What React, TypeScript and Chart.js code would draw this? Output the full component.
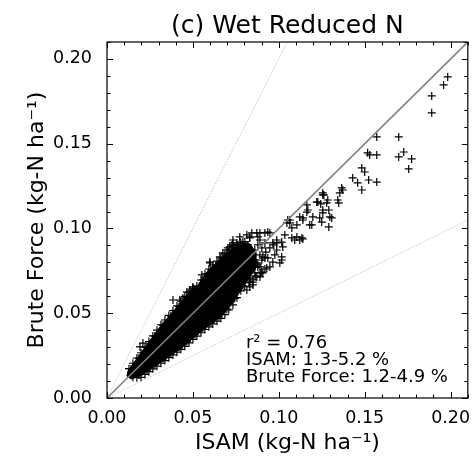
import React, { useEffect, useRef } from 'react';
import { Chart, registerables } from 'chart.js';

Chart.register(...registerables);

const FONT = '"DejaVu Sans", "Liberation Sans", sans-serif';

const chartTitle = '(c) Wet Reduced N';
const xAxisTitle = 'ISAM (kg-N ha⁻¹)';
const yAxisTitle = 'Brute Force (kg-N ha⁻¹)';
const statLines = ['r² = 0.76', 'ISAM: 1.3-5.2 %', 'Brute Force: 1.2-4.9 %'];

const axisMin = 0;
const axisMax = 0.21;
const majorTicks = [0, 0.05, 0.1, 0.15, 0.2];
const minorTicks = [0.01, 0.02, 0.03, 0.04, 0.06, 0.07, 0.08, 0.09, 0.11, 0.12, 0.13, 0.14, 0.16, 0.17, 0.18, 0.19, 0.21];

// reference lines (ISAM, Brute Force)
const oneToOneIsam = [0, 0.21];
const oneToOneBrute = [0, 0.21];
const doubleIsam = [0, 0.105];
const doubleBrute = [0, 0.21];
const halfIsam = [0, 0.21];
const halfBrute = [0, 0.105];

// saturated (fully overlapping) core of the point cloud, outline
const denseCoreIsam = [0.0122, 0.0209, 0.0308, 0.0407, 0.0471, 0.0523, 0.0581, 0.0628, 0.0674, 0.0733, 0.0802, 0.0831, 0.0866, 0.0866, 0.0820, 0.0773, 0.0733, 0.0674, 0.0558, 0.0442, 0.0308, 0.0192, 0.0140, 0.0116, 0.0122];
const denseCoreBrute = [0.0159, 0.0283, 0.0419, 0.0537, 0.0614, 0.0655, 0.0743, 0.0791, 0.0832, 0.0885, 0.0915, 0.0909, 0.0861, 0.0767, 0.0696, 0.0625, 0.0561, 0.0490, 0.0401, 0.0301, 0.0207, 0.0130, 0.0112, 0.0130, 0.0159];

// individual samples [ISAM, Brute Force]
const samples: [number, number][] = [
  // upper edge of cloud
  [0.0128, 0.0173], [0.0151, 0.0205], [0.0174, 0.0236], [0.0198, 0.0267], [0.0221, 0.0300], [0.0244, 0.0333],
  [0.0267, 0.0366], [0.0291, 0.0400], [0.0314, 0.0432], [0.0337, 0.0460], [0.0360, 0.0487], [0.0384, 0.0515],
  [0.0407, 0.0543], [0.0430, 0.0571], [0.0453, 0.0599], [0.0477, 0.0624], [0.0500, 0.0643], [0.0523, 0.0661],
  [0.0547, 0.0696], [0.0570, 0.0732], [0.0593, 0.0761], [0.0616, 0.0785], [0.0640, 0.0807], [0.0663, 0.0827],
  [0.0686, 0.0850], [0.0709, 0.0873], [0.0733, 0.0897], [0.0756, 0.0905], [0.0779, 0.0914], [0.0802, 0.0922],
  [0.0140, 0.0171], [0.0186, 0.0234], [0.0233, 0.0299], [0.0279, 0.0365], [0.0326, 0.0428], [0.0372, 0.0483],
  [0.0419, 0.0539], [0.0465, 0.0595], [0.0512, 0.0634], [0.0558, 0.0696], [0.0605, 0.0755], [0.0651, 0.0799],
  [0.0698, 0.0841], [0.0744, 0.0883], [0.0791, 0.0900],
  // above the cloud
  [0.0384, 0.0578], [0.0442, 0.0590], [0.0494, 0.0625], [0.0558, 0.0679], [0.0599, 0.0797], [0.0552, 0.0726],
  [0.0674, 0.0856], [0.0703, 0.0885], [0.0727, 0.0903], [0.0756, 0.0915], [0.0831, 0.0944], [0.0878, 0.0950],
  [0.0820, 0.0903], [0.0843, 0.0873], [0.0733, 0.0915], [0.0791, 0.0920], [0.0843, 0.0974], [0.0872, 0.0974],
  [0.0919, 0.0974], [0.0936, 0.0979], [0.0988, 0.0932], [0.1017, 0.0920], [0.1064, 0.1033], [0.1076, 0.1003],
  [0.1105, 0.0950], [0.0500, 0.0655], [0.0483, 0.0637], [0.0192, 0.0301], [0.0209, 0.0324],
  [0.0657, 0.0832], [0.0599, 0.0802], [0.0500, 0.0649], [0.0424, 0.0578], [0.0465, 0.0625], [0.0698, 0.0873],
  [0.0733, 0.0932], [0.0773, 0.0950], [0.0814, 0.0962], [0.0890, 0.0932], [0.0988, 0.0915], [0.1035, 0.0962],
  [0.1052, 0.1050], [0.1105, 0.1021], [0.1122, 0.0932],
  // lower edge of cloud
  [0.0151, 0.0122], [0.0174, 0.0120], [0.0198, 0.0122], [0.0221, 0.0139], [0.0244, 0.0155], [0.0267, 0.0172],
  [0.0291, 0.0188], [0.0314, 0.0205], [0.0337, 0.0221], [0.0360, 0.0238], [0.0384, 0.0254], [0.0407, 0.0270],
  [0.0430, 0.0287], [0.0453, 0.0305], [0.0477, 0.0325], [0.0500, 0.0345], [0.0523, 0.0365], [0.0547, 0.0385],
  [0.0570, 0.0404], [0.0593, 0.0420], [0.0616, 0.0437], [0.0640, 0.0453], [0.0663, 0.0470], [0.0686, 0.0492],
  [0.0709, 0.0520], [0.0733, 0.0549], [0.0756, 0.0592], [0.0779, 0.0632], [0.0802, 0.0659], [0.0826, 0.0681],
  [0.0849, 0.0697], [0.0872, 0.0714], [0.0895, 0.0738], [0.0919, 0.0761],
  [0.0186, 0.0136], [0.0233, 0.0165], [0.0279, 0.0198], [0.0326, 0.0231], [0.0372, 0.0264], [0.0419, 0.0296],
  [0.0465, 0.0333], [0.0512, 0.0373], [0.0558, 0.0413], [0.0605, 0.0446], [0.0651, 0.0479], [0.0698, 0.0524],
  [0.0744, 0.0588], [0.0791, 0.0663], [0.0837, 0.0707],
  // below / right of the cloud
  [0.0773, 0.0655], [0.0814, 0.0637], [0.0849, 0.0684], [0.0860, 0.0738], [0.0878, 0.0773], [0.0791, 0.0738],
  [0.0965, 0.0802], [0.0948, 0.0773], [0.1017, 0.0814], [0.0890, 0.0773], [0.1093, 0.0932], [0.1134, 0.0944],
  [0.0907, 0.0832], [0.0849, 0.0814], [0.0988, 0.0873], [0.1023, 0.0891], [0.1076, 0.0944], [0.0965, 0.0915],
  [0.1006, 0.0797], [0.0977, 0.0844], [0.1017, 0.0832], [0.0831, 0.0655], [0.0849, 0.0667], [0.0890, 0.0714],
  [0.0907, 0.0738], [0.0930, 0.0767], [0.0872, 0.0797], [0.0919, 0.0826],
  // upper end of the cloud
  [0.0802, 0.0873], [0.0831, 0.0844], [0.0860, 0.0873], [0.0878, 0.0903], [0.0901, 0.0885], [0.0919, 0.0915],
  [0.0820, 0.0785], [0.0860, 0.0814], [0.0890, 0.0844], [0.0924, 0.0861], [0.0948, 0.0885], [0.0971, 0.0903],
  [0.0843, 0.0755], [0.0878, 0.0785], [0.0901, 0.0814], [0.0936, 0.0826], [0.0802, 0.0726], [0.0831, 0.0684],
  [0.0866, 0.0720], [0.0901, 0.0743],
  [0.0715, 0.0891], [0.0773, 0.0920], [0.0831, 0.0950], [0.0890, 0.0974], [0.0948, 0.0974], [0.1047, 0.1033],
  [0.1064, 0.1050], [0.1163, 0.1139], [0.1169, 0.1109], [0.1221, 0.1156], [0.1256, 0.1198], [0.1279, 0.1151],
  [0.1140, 0.1062], [0.1180, 0.1021], [0.1238, 0.1062],
  // scattered high values
  [0.1570, 0.1540], [0.1517, 0.1446], [0.1570, 0.1434], [0.1483, 0.1357], [0.1500, 0.1333], [0.1430, 0.1298],
  [0.1459, 0.1269], [0.1483, 0.1227], [0.1523, 0.1286], [0.1570, 0.1274], [0.1366, 0.1239], [0.1372, 0.1227],
  [0.1355, 0.1210], [0.1343, 0.1168], [0.1256, 0.1210], [0.1285, 0.1168], [0.1227, 0.1156], [0.1122, 0.1068],
  [0.1198, 0.1068], [0.1256, 0.1109], [0.1297, 0.1068],
  [0.1983, 0.1894], [0.1959, 0.1847], [0.1890, 0.1782], [0.1890, 0.1682], [0.1698, 0.1540], [0.1727, 0.1451],
  [0.1698, 0.1422], [0.1773, 0.1410], [0.1756, 0.1351], [0.1529, 0.1434], [0.1262, 0.1198], [0.1349, 0.1151],
  [0.1244, 0.1145], [0.1163, 0.1097], [0.1291, 0.1109], [0.1256, 0.1092], [0.1308, 0.1062], [0.1250, 0.1038],
  [0.1192, 0.1021], [0.1291, 0.1009], [0.1140, 0.1050], [0.1140, 0.0938],
];

const allTicks = [...majorTicks, ...minorTicks].sort((a, b) => a - b);
const isMajor = (v: number) => majorTicks.some((m) => Math.abs(m - v) < 1e-9);
const tickLabel = (v: any) => (isMajor(Number(v)) ? Number(v).toFixed(2) : '');

const toPoints = (xs: number[], ys: number[]) => xs.map((x, i) => ({ x, y: ys[i] }));

const framePlugin = {
  id: 'frameAndText',
  afterDraw(chart: any) {
    const { ctx, chartArea: a, scales } = chart;
    const xs = scales.x;
    const ys = scales.y;
    ctx.save();
    ctx.strokeStyle = '#000';
    ctx.lineWidth = 1;
    ctx.beginPath();
    for (const t of xs.ticks) {
      const px = Math.round(xs.getPixelForValue(t.value)) + 0.5;
      const len = isMajor(t.value) ? 6 : 3.5;
      ctx.moveTo(px, a.bottom);
      ctx.lineTo(px, a.bottom - len);
      ctx.moveTo(px, a.top);
      ctx.lineTo(px, a.top + len);
    }
    for (const t of ys.ticks) {
      const py = Math.round(ys.getPixelForValue(t.value)) + 0.5;
      const len = isMajor(t.value) ? 6 : 3.5;
      ctx.moveTo(a.left, py);
      ctx.lineTo(a.left + len, py);
      ctx.moveTo(a.right, py);
      ctx.lineTo(a.right - len, py);
    }
    ctx.stroke();
    ctx.lineWidth = 1.3;
    ctx.strokeStyle = '#111';
    ctx.strokeRect(a.left, a.top, a.right - a.left, a.bottom - a.top);

    ctx.fillStyle = '#000';
    ctx.font = `25px ${FONT}`;
    ctx.textAlign = 'center';
    ctx.textBaseline = 'alphabetic';
    ctx.fillText(chartTitle, (a.left + a.right) / 2, a.top - 9);

    ctx.font = `18px ${FONT}`;
    ctx.textAlign = 'left';
    const tx = a.left + 0.385 * (a.right - a.left);
    const offsets = [50, 33, 16];
    statLines.forEach((line, i) => ctx.fillText(line, tx, a.bottom - offsets[i]));
    ctx.restore();
  },
};

export default function App() {
  const ref = useRef<HTMLCanvasElement | null>(null);

  useEffect(() => {
    if (!ref.current) return;
    const chart = new Chart(ref.current, {
      type: 'scatter',
      data: {
        datasets: [
          {
            label: '1:1',
            data: toPoints(oneToOneIsam, oneToOneBrute),
            showLine: true,
            borderColor: '#808080',
            borderWidth: 1.6,
            pointRadius: 0,
          },
          {
            label: '2:1',
            data: toPoints(doubleIsam, doubleBrute),
            showLine: true,
            borderColor: '#b8b8b8',
            borderWidth: 0.8,
            borderDash: [1.5, 1.5],
            pointRadius: 0,
          },
          {
            label: '1:2',
            data: toPoints(halfIsam, halfBrute),
            showLine: true,
            borderColor: '#b8b8b8',
            borderWidth: 0.8,
            borderDash: [1.5, 1.5],
            pointRadius: 0,
          },
          {
            label: 'samples',
            data: samples.map(([x, y]) => ({ x, y })),
            pointStyle: 'cross',
            pointRadius: 4,
            borderColor: '#000',
            backgroundColor: '#000',
            borderWidth: 1.2,
            showLine: false,
          },
          {
            label: 'core',
            data: toPoints(denseCoreIsam, denseCoreBrute),
            showLine: true,
            fill: 'shape',
            backgroundColor: '#000',
            borderColor: '#000',
            borderWidth: 1,
            pointRadius: 0,
          },
        ],
      },
      options: {
        responsive: false,
        maintainAspectRatio: false,
        animation: false,
        events: [],
        layout: { padding: { top: 42, right: 5, left: 0, bottom: 0 } },
        plugins: {
          legend: { display: false },
          tooltip: { enabled: false },
          title: { display: false },
        },
        scales: {
          x: {
            type: 'linear',
            position: 'bottom',
            min: axisMin,
            max: axisMax,
            afterBuildTicks: (s: any) => {
              s.ticks = allTicks.map((v) => ({ value: v }));
            },
            afterFit: (s: any) => {
              s.height = 58;
            },
            ticks: {
              autoSkip: false,
              maxRotation: 0,
              minRotation: 0,
              padding: 2,
              color: '#000',
              font: { family: FONT, size: 17.5 },
              callback: tickLabel,
            },
            grid: { display: false },
            border: { display: false },
            title: {
              display: true,
              text: xAxisTitle,
              color: '#000',
              font: { family: FONT, size: 22 },
              padding: { top: 0, bottom: 0 },
            },
          },
          y: {
            type: 'linear',
            position: 'left',
            min: axisMin,
            max: axisMax,
            afterBuildTicks: (s: any) => {
              s.ticks = allTicks.map((v) => ({ value: v }));
            },
            afterFit: (s: any) => {
              s.width = 107;
            },
            ticks: {
              autoSkip: false,
              padding: 7,
              color: '#000',
              font: { family: FONT, size: 17.5 },
              callback: tickLabel,
            },
            grid: { display: false },
            border: { display: false },
            title: {
              display: true,
              text: yAxisTitle,
              color: '#000',
              font: { family: FONT, size: 22 },
              padding: { top: 24, bottom: 0 },
            },
          },
        },
      },
      plugins: [framePlugin],
    } as any);
    return () => chart.destroy();
  }, []);

  return (
    <div style={{ position: 'fixed', left: 0, top: 0, width: 473, height: 456, background: '#fff' }}>
      <canvas ref={ref} width={473} height={456} style={{ display: 'block' }} />
    </div>
  );
}
